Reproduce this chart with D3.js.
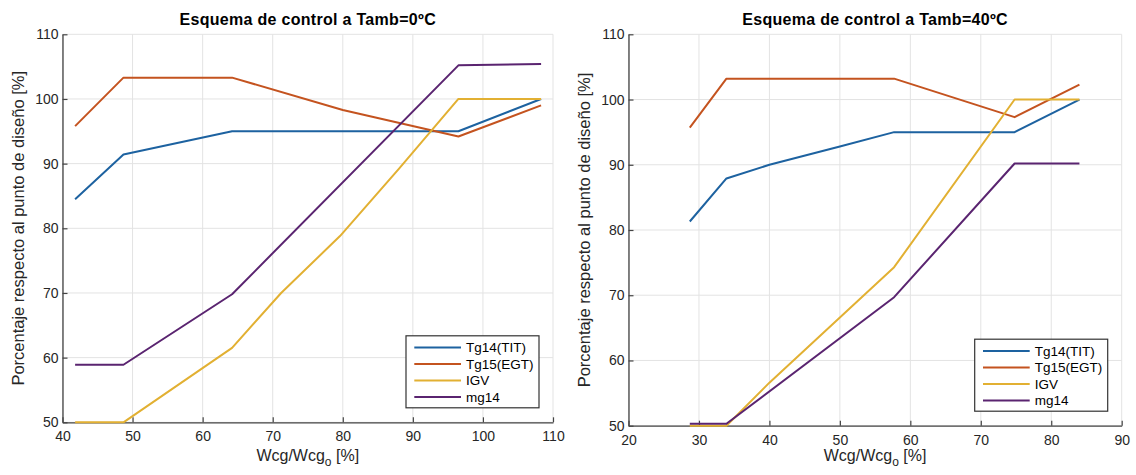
<!DOCTYPE html>
<html>
<head>
<meta charset="utf-8">
<script src="https://cdn.jsdelivr.net/npm/d3@7"></script>
<style>
  html, body { margin: 0; padding: 0; background: #fff; }
  svg { display: block; font-family: "Liberation Sans", Arial, Helvetica, sans-serif; }
</style>
</head>
<body>
<svg id="chart" width="1136" height="475"></svg>
<script>
// ---------- data ----------
const seriesNames = ["Tg14(TIT)", "Tg15(EGT)", "IGV", "mg14"];
const yTicks = [50, 60, 70, 80, 90, 100, 110];
const xTicksLeft = [40, 50, 60, 70, 80, 90, 100, 110];
const xTicksRight = [20, 30, 40, 50, 60, 70, 80, 90];
const titleLeft = "Esquema de control a Tamb=0ºC";
const titleRight = "Esquema de control a Tamb=40ºC";
const yLabel = "Porcentaje respecto al punto de diseño [%]";

// Tamb = 0ºC
const tg14_0_x = [41.8, 48.7, 64.2, 96.5, 108.3];
const tg14_0_y = [84.5, 91.4, 95.0, 95.0, 100.0];
const tg15_0_x = [41.8, 48.7, 64.2, 80.0, 96.5, 108.3];
const tg15_0_y = [95.8, 103.3, 103.3, 98.3, 94.2, 99.0];
const igv_0_x = [41.8, 48.7, 64.2, 71.2, 79.6, 88.0, 96.5, 108.3];
const igv_0_y = [50.0, 50.0, 61.5, 70.0, 78.8, 89.2, 100.0, 100.0];
const mg14_0_x = [41.8, 48.7, 64.2, 96.5, 108.3];
const mg14_0_y = [58.9, 58.9, 69.8, 105.2, 105.4];

// Tamb = 40ºC
const tg14_40_x = [28.7, 33.9, 40.0, 50.0, 57.7, 74.8, 84.0];
const tg14_40_y = [81.3, 87.9, 90.0, 92.8, 95.0, 95.0, 100.0];
const tg15_40_x = [28.7, 33.9, 57.7, 74.8, 84.0];
const tg15_40_y = [95.7, 103.2, 103.2, 97.3, 102.3];
const igv_40_x = [28.7, 33.9, 40.0, 50.0, 57.7, 74.8, 84.0];
const igv_40_y = [50.0, 50.0, 56.6, 66.6, 74.3, 100.0, 100.0];
const mg14_40_x = [28.7, 33.9, 57.7, 74.8, 84.0];
const mg14_40_y = [50.3, 50.3, 69.7, 90.2, 90.2];

// ---------- style ----------
const colors = ["#1d62a0", "#c4531f", "#e2b032", "#5a2470"];
const svg = d3.select("#chart");

function zip(xs, ys) { return xs.map((x, i) => [x, ys[i]]); }

function drawPanel(cfg) {
  const x = d3.scaleLinear().domain([cfg.xTicks[0], cfg.xTicks[cfg.xTicks.length - 1]]).range([cfg.left, cfg.right]);
  const y = d3.scaleLinear().domain([yTicks[0], yTicks[yTicks.length - 1]]).range([cfg.bottom, cfg.top]);
  const g = svg.append("g");

  // grid
  g.append("g").selectAll("line.gx").data(cfg.xTicks).join("line")
    .attr("x1", d => x(d)).attr("x2", d => x(d))
    .attr("y1", cfg.top).attr("y2", cfg.bottom)
    .attr("stroke", "#e3e3e3").attr("stroke-width", 1);
  g.append("g").selectAll("line.gy").data(yTicks).join("line")
    .attr("x1", cfg.left).attr("x2", cfg.right)
    .attr("y1", d => y(d)).attr("y2", d => y(d))
    .attr("stroke", "#e3e3e3").attr("stroke-width", 1);

  // axes
  const xa = g.append("g").attr("transform", `translate(0,${cfg.bottom})`)
    .call(d3.axisBottom(x).tickValues(cfg.xTicks).tickSizeInner(-5).tickSizeOuter(0).tickPadding(9));
  const ya = g.append("g").attr("transform", `translate(${cfg.left},0)`)
    .call(d3.axisLeft(y).tickValues(yTicks).tickSizeInner(-5).tickSizeOuter(0).tickPadding(4));
  [xa, ya].forEach(a => {
    a.select(".domain").attr("stroke", "#444").attr("stroke-width", 1.3);
    a.selectAll(".tick line").attr("stroke", "#444").attr("stroke-width", 1.2);
    a.selectAll(".tick text").attr("fill", "#262626").style("font-size", "14px")
      .style("font-family", '"Liberation Sans", Arial, sans-serif');
  });

  // lines
  const line = d3.line().x(d => x(d[0])).y(d => y(d[1]));
  cfg.series.forEach((s, i) => {
    g.append("path").datum(s).attr("d", line)
      .attr("fill", "none").attr("stroke", colors[i]).attr("stroke-width", 2)
      .attr("stroke-linejoin", "round");
  });

  // title
  g.append("text").attr("x", (cfg.left + cfg.right) / 2).attr("y", 25)
    .attr("text-anchor", "middle").style("font-size", "16px").style("font-weight", "bold")
    .style("letter-spacing", "0.3px")
    .attr("fill", "#000").text(cfg.title);

  // x label
  const xl = g.append("text").attr("x", (cfg.left + cfg.right) / 2).attr("y", 461)
    .attr("text-anchor", "middle").style("font-size", "16px").attr("fill", "#262626");
  xl.append("tspan").text("Wcg/Wcg");
  xl.append("tspan").attr("dy", 5).style("font-size", "12px").text("o");
  xl.append("tspan").attr("dy", -5).text(" [%]");

  // y label
  g.append("text")
    .attr("transform", `translate(${cfg.left - 38.5},${(cfg.top + cfg.bottom) / 2}) rotate(-90)`)
    .attr("text-anchor", "middle").style("font-size", "16.5px").attr("fill", "#262626")
    .text(yLabel);

  // legend
  const lw = 133, lh = 72;
  const lx = cfg.right - 14 - lw, ly = cfg.bottom - 14.5 - lh;
  const lg = g.append("g").attr("transform", `translate(${lx},${ly})`);
  lg.append("rect").attr("width", lw).attr("height", lh)
    .attr("fill", "#fff").attr("stroke", "#333").attr("stroke-width", 1.2);
  seriesNames.forEach((n, i) => {
    const ry = 11.7 + i * 16.5;
    lg.append("line").attr("x1", 8.3).attr("x2", 55).attr("y1", ry).attr("y2", ry)
      .attr("stroke", colors[i]).attr("stroke-width", 2);
    lg.append("text").attr("x", 60).attr("y", ry).attr("dy", "0.35em")
      .style("font-size", "13.5px").attr("fill", "#000").text(n);
  });
}

drawPanel({
  left: 62.5, right: 553, top: 34.3, bottom: 422.3,
  xTicks: xTicksLeft, title: titleLeft,
  series: [zip(tg14_0_x, tg14_0_y), zip(tg15_0_x, tg15_0_y), zip(igv_0_x, igv_0_y), zip(mg14_0_x, mg14_0_y)]
});
drawPanel({
  left: 628.5, right: 1121.7, top: 34.3, bottom: 425.7,
  xTicks: xTicksRight, title: titleRight,
  series: [zip(tg14_40_x, tg14_40_y), zip(tg15_40_x, tg15_40_y), zip(igv_40_x, igv_40_y), zip(mg14_40_x, mg14_40_y)]
});
</script>
</body>
</html>
